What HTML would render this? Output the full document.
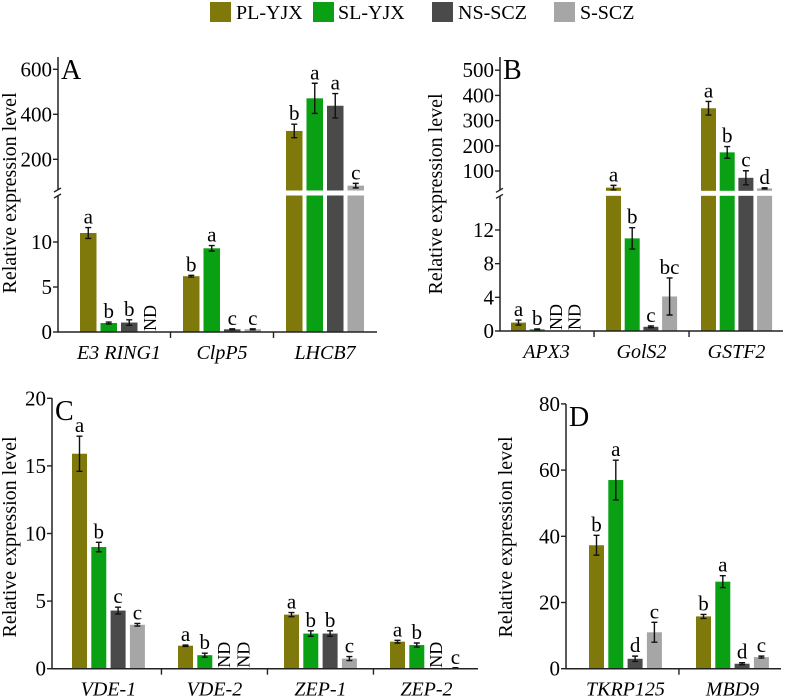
<!DOCTYPE html>
<html><head><meta charset="utf-8"><style>
html,body{margin:0;padding:0;background:#fff;}
svg{display:block;}
svg text{font-family:"Liberation Serif","DejaVu Serif",serif;}
</style></head><body>
<svg id="fig" width="787" height="697" viewBox="0 0 787 697" xmlns="http://www.w3.org/2000/svg" font-family="Liberation Serif, serif">
</svg>
<script>
// ----- shared series/categories -----
const seriesNames=["PL-YJX","SL-YJX","NS-SCZ","S-SCZ"];
const colors=["#7f780a","#0aa014","#4a4a4a","#a6a6a6"];

// ----- Panel A data -----
const catsA=["E3 RING1","ClpP5","LHCB7"];
const valsA=[[11,1,1.05,null],[6.2,9.3,0.3,0.3],[326,471,438,83]];
const errsA=[[0.6,0.1,0.3,0],[0.1,0.3,0.05,0.05],[30,67,54,10]];
const lettersA=[["a","b","b","ND"],["b","a","c","c"],["b","a","a","c"]];
const ticksLowA=[0,5,10];
const ticksHighA=[200,400,600];

// ----- Panel B data -----
const catsB=["APX3","GolS2","GSTF2"];
const valsB=[[1,0.2,null,null],[34,11,0.5,4.1],[349,174,73,31]];
const errsB=[[0.3,0.05,0,0],[9,1.27,0.1,2.2],[27,23,28,2]];
const lettersB=[["a","b","ND","ND"],["a","b","c","bc"],["a","b","c","d"]];
const ticksLowB=[0,4,8,12];
const ticksHighB=[100,200,300,400,500];

// ----- Panel C data -----
const catsC=["VDE-1","VDE-2","ZEP-1","ZEP-2"];
const valsC=[[15.9,9.0,4.3,3.25],[1.7,1.0,null,null],[4.0,2.6,2.6,0.75],[2.0,1.75,null,0.05]];
const errsC=[[1.3,0.35,0.25,0.1],[0.05,0.15,0,0],[0.15,0.2,0.2,0.15],[0.1,0.15,0,0.02]];
const lettersC=[["a","b","c","c"],["a","b","ND","ND"],["a","b","b","c"],["a","b","ND","c"]];
const ticksC=[0,5,10,15,20];

// ----- Panel D data -----
const catsD=["TKRP125","MBD9"];
const valsD=[[37.3,57,3,11],[15.8,26.3,1.5,3.5]];
const errsD=[[3,6,0.8,3],[0.6,1.8,0.3,0.3]];
const lettersD=[["b","a","d","c"],["b","a","d","c"]];
const ticksD=[0,20,40,60,80];

const NS="http://www.w3.org/2000/svg";
const svg=document.getElementById("fig");
const FONT='"Liberation Serif", serif';
function mk(tag,attrs,parent){const e=document.createElementNS(NS,tag);if(tag==="text")e.setAttribute("font-family",FONT);for(const k in attrs)e.setAttribute(k,attrs[k]);(parent||svg).appendChild(e);return e;}

const legend=mk("g",{"font-size":"20"});


const L=[{sx:210,tx:236},{sx:313,tx:338},{sx:432,tx:458},{sx:554,tx:580}];
seriesNames.forEach((n,i)=>{
  const r=mk("rect",{x:L[i].sx,y:2,width:21,height:20,fill:colors[i]},legend);
  
  
  const t=mk("text",{x:L[i].tx,y:19,"font-size":"20"},legend);
  t.textContent=n;
  
  
});

function panel(o){
  const g=mk("g",{});
  
  
  const y=o.yScale;
  o.vals.forEach((grp,i)=>{
    grp.forEach((v,j)=>{
      const bx=o.gx0+i*o.gstep+j*o.bstep;
      const cx=bx+o.bw/2;
      if(v===null){
        const t=mk("text",{x:0,y:0,"font-size":"18",transform:`translate(${cx+6},${o.base-1}) rotate(-90)`},g);
        t.textContent="ND";
        
        
        return;
      }
      const top=y(v);
      const r=mk("rect",{x:bx,y:top,width:o.bw,height:Math.max(0.8,o.base-top),fill:colors[j]},g);
      
      
      const e=o.errs[i][j];
      const yt=y(v+e), yb=y(Math.max(0,v-e));
      if(e>0){
        const eb=mk("path",{d:`M${cx},${yt}V${yb}M${cx-3},${yt}H${cx+3}M${cx-3},${yb}H${cx+3}`,stroke:"#111","stroke-width":"1.4",fill:"none"},g);
        
        
      }
      const lt=mk("text",{x:cx,y:yt-4,"text-anchor":"middle","font-size":"21"},g);
      lt.textContent=o.letters[i][j];
      
      
    });
  });
  if(o.breakY){
    const gap=mk("rect",{x:o.ax,y:o.breakY-2.5,width:o.axEnd-o.ax,height:5,fill:"#fff"},g);
    
    
  }
  const ax=mk("path",{d:`M${o.ax},${o.axTop}V${o.base}H${o.axEnd}`,stroke:"#222","stroke-width":"1.5",fill:"none"},g);
  
  
  if(o.breakY){
    const w=mk("rect",{x:o.ax-5,y:o.breakY-3,width:10,height:6,fill:"#fff"},g);
    
    
    const bk=mk("path",{d:`M${o.ax-4},${o.breakY-1}L${o.ax+3},${o.breakY-5}M${o.ax-4},${o.breakY+5}L${o.ax+3},${o.breakY+1}`,stroke:"#222","stroke-width":"1.4"},g);
    
    
  }
  o.ticks.forEach(tv=>{
    const ty=y(tv);
    const tk=mk("path",{d:`M${o.ax-5},${ty}H${o.ax}`,stroke:"#222","stroke-width":"1.4"},g);
    
    
    const tl=mk("text",{x:o.ax-6,y:ty+7,"text-anchor":"end","font-size":"21"},g);
    tl.textContent=tv;
    
    
  });
  o.cats.forEach((c,i)=>{
    const gs=o.gx0+i*o.gstep;
    const cxg=gs+(3*o.bstep+o.bw)/2;
    if(i>0){
      const dvx=gs-(o.gstep-3*o.bstep-o.bw)/2;
      const dv=mk("path",{d:`M${dvx},${o.base}V${o.base+6}`,stroke:"#222","stroke-width":"1.4"},g);
      
      
    }
    const cl=mk("text",{x:cxg,y:o.base+o.catDy,"text-anchor":"middle","font-size":"20","font-style":"italic"},g);
    cl.textContent=c;
    
    
  });
  const yt=mk("text",{x:0,y:0,"text-anchor":"middle","font-size":"20",transform:`translate(${o.titleX},${o.titleY}) rotate(-90)`},g);
  yt.textContent="Relative expression level";
  
  
  const pl=mk("text",{x:o.ax+3,y:o.axTop+22,"font-size":"28"},g);
  pl.textContent=o.id;
  
  
}

const baseA=332,kLowA=9,lowMaxA=15.4,breakYA=193;
function yA(v){return v<=lowMaxA?baseA-v*kLowA:159.3-(v-200)*0.225;}
panel({id:"A",cats:catsA,vals:valsA,errs:errsA,letters:lettersA,ticks:ticksLowA.concat(ticksHighA),
  yScale:yA,base:baseA,ax:58,axEnd:377,axTop:57,breakY:breakYA,gx0:80,gstep:103,bstep:20.5,bw:16.5,
  catDy:27,titleX:16,titleY:193});

const baseB=331,kLowB=8.42,lowMaxB=16.3,breakYB=193.3;
function yB(v){return v<=lowMaxB?baseB-v*kLowB:171-(v-100)*0.252;}
panel({id:"B",cats:catsB,vals:valsB,errs:errsB,letters:lettersB,ticks:ticksLowB.concat(ticksHighB),
  yScale:yB,base:baseB,ax:500,axEnd:783,axTop:57,breakY:breakYB,gx0:511,gstep:95,bstep:18.7,bw:15,
  catDy:27,titleX:442,titleY:194});

function yC(v){return 668.7-v*13.52;}
panel({id:"C",cats:catsC,vals:valsC,errs:errsC,letters:lettersC,ticks:ticksC,
  yScale:yC,base:668.7,ax:52,axEnd:478,axTop:398,breakY:0,gx0:72,gstep:106,bstep:19.3,bw:15,
  catDy:27,titleX:16,titleY:537});

function yD(v){return 668.7-v*3.31;}
panel({id:"D",cats:catsD,vals:valsD,errs:errsD,letters:lettersD,ticks:ticksD,
  yScale:yD,base:668.7,ax:566,axEnd:781,axTop:404,breakY:0,gx0:589,gstep:107,bstep:19.3,bw:15,
  catDy:27,titleX:512,titleY:537});
</script>
</body></html>
